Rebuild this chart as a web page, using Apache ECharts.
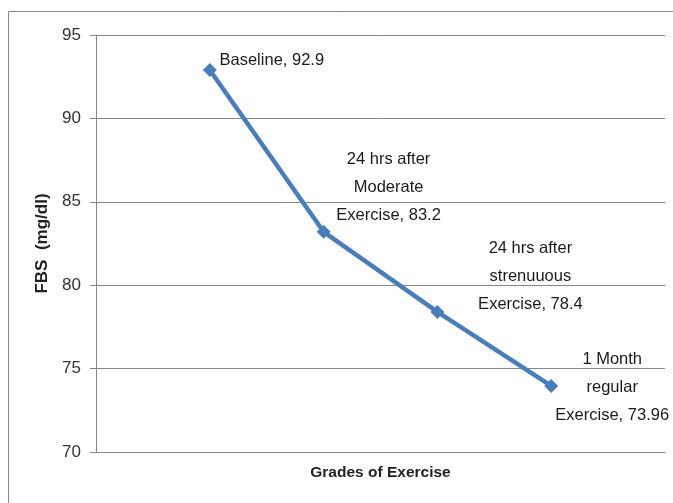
<!DOCTYPE html>
<html>
<head>
<meta charset="utf-8">
<style>
html,body{margin:0;padding:0;background:#fff;}
#chart{width:673px;height:503px;}
</style>
<script src="https://cdn.jsdelivr.net/npm/echarts@6/dist/echarts.min.js"></script>
</head>
<body>
<div id="chart"></div>
<script>
const categories = ['Baseline', '24 hrs after\nModerate\nExercise', '24 hrs after\nstrenuuous\nExercise', '1 Month\nregular\nExercise'];
const fbsValues = [92.9, 83.2, 78.4, 73.96];
const yTicks = [70, 75, 80, 85, 90, 95];
const xTitle = 'Grades of Exercise';
const yTitle = 'FBS  (mg/dl)';

// label placement (pixel offsets from each point), styling only
const labelOffsets = [[62, -10], [65, -44], [93, -35], [61, 2]];

const axisCats = [''].concat(categories).concat(['']);
const seriesData = ['-'].concat(fbsValues.map((v, i) => ({
  value: v,
  label: { offset: labelOffsets[i] }
}))).concat(['-']);

const FONT = '"Liberation Sans", "DejaVu Sans", sans-serif';
const chart = echarts.init(document.getElementById('chart'), null, {renderer: 'canvas'});
chart.setOption({
  animation: false,
  backgroundColor: '#fff',
  graphic: [{
    type: 'rect', shape: {x: 8.5, y: 11.5, width: 700, height: 520},
    style: {fill: 'none', stroke: '#8c8c8c', lineWidth: 1}, silent: true, z: -1
  }],
  grid: {left: 96, right: 8, top: 35, bottom: 51, containLabel: false},
  xAxis: {
    type: 'category',
    data: axisCats,
    boundaryGap: false,
    name: xTitle,
    nameLocation: 'middle',
    nameGap: 13,
    nameTextStyle: {fontFamily: FONT, fontSize: 15.5, fontWeight: 'bold', color: '#222'},
    axisLine: {show: true, lineStyle: {color: '#868686', width: 1}},
    axisTick: {show: false},
    axisLabel: {show: false},
    splitLine: {show: false}
  },
  yAxis: {
    type: 'value',
    min: yTicks[0],
    max: yTicks[yTicks.length - 1],
    interval: yTicks[1] - yTicks[0],
    name: yTitle,
    nameLocation: 'middle',
    nameGap: 44,
    nameTextStyle: {fontFamily: FONT, fontSize: 17, fontWeight: 'bold', color: '#222'},
    axisLine: {show: true, lineStyle: {color: '#868686', width: 1}},
    axisTick: {show: true, inside: false, length: 6, lineStyle: {color: '#868686'}},
    axisLabel: {fontFamily: FONT, fontSize: 17, color: '#333', margin: 15},
    splitLine: {show: true, lineStyle: {color: '#868686', width: 1}}
  },
  series: [{
    type: 'line',
    data: seriesData,
    connectNulls: false,
    symbol: 'diamond',
    symbolSize: 14,
    lineStyle: {color: '#4a7ebb', width: 4.5},
    itemStyle: {color: '#4a7ebb'},
    label: {
      show: true,
      position: 'inside',
      align: 'center',
      verticalAlign: 'middle',
      fontFamily: FONT,
      fontSize: 16.5,
      lineHeight: 28,
      color: '#1a1a1a',
      formatter: p => p.name + ', ' + p.value
    }
  }]
});
</script>
</body>
</html>
